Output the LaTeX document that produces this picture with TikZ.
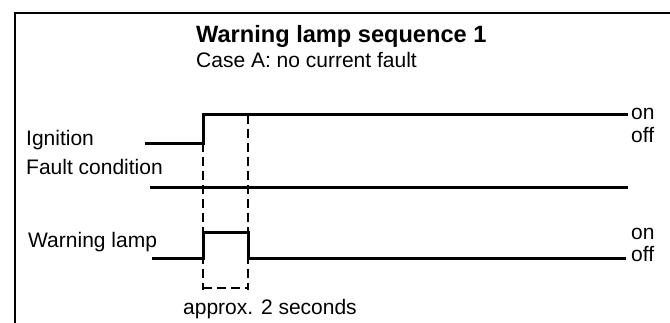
\documentclass[tikz,border=0pt]{standalone}
\usepackage{fontspec}
\setmainfont{Liberation Sans}
\begin{document}
\begin{tikzpicture}[x=1pt,y=-1pt,
  lbl/.style={anchor=base west,inner sep=0pt,font=\fontsize{21}{25}\selectfont},
  ttl/.style={anchor=base west,inner sep=0pt,font=\fontsize{23.6}{28}\selectfont\bfseries},
  sig/.style={line width=3pt},
  guide/.style={line width=1.8pt,dash pattern=on 9pt off 5pt},
  frame/.style={line width=2pt}]
\useasboundingbox (0,0) rectangle (670,323);
\draw[frame] (15,323) -- (15,13) -- (670,13);
\node[ttl] (title) at (196,43) {Warning lamp sequence 1};
\node[lbl] (case) at (196,68) {Case A: no current fault};
\node[lbl] (ign) at (26,146) {Ignition};
\node[lbl] (fault) at (26,175) {Fault condition};
\node[lbl] (lamp) at (28,248) {Warning lamp};
\node[lbl] (approx) at (183,315) {approx. 2 seconds};
\node[lbl] (on1) at (631,120) {on};
\node[lbl] (off1) at (631,143) {off};
\node[lbl] (on2) at (631,240) {on};
\node[lbl] (off2) at (631,262) {off};
\draw[guide] (203,115) -- (203,290);
\draw[guide] (248,115) -- (248,290);
\draw[guide] (203,288) -- (248,288);
\draw[sig] (145,144) -- (203,144) -- (203,115) -- (628,115);
\draw[sig] (150,188) -- (628,188);
\draw[sig] (152,259) -- (203,259) -- (203,233) -- (248,233) -- (248,259) -- (626,259);
\end{tikzpicture}
\end{document}
